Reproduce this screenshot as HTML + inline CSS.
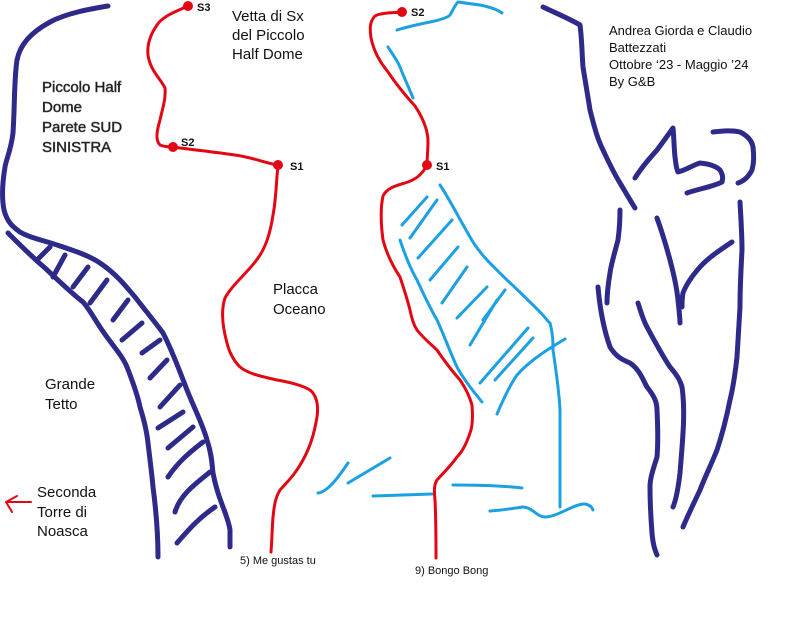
<!DOCTYPE html>
<html><head><meta charset="utf-8"><style>
html,body{margin:0;padding:0;background:#fff;}
svg{display:block}
text{font-family:"Liberation Sans",sans-serif;fill:#111;}
</style></head><body>
<svg width="804" height="628" viewBox="0 0 804 628" xmlns="http://www.w3.org/2000/svg">
<g fill="none" stroke="#2e2a8a" stroke-width="5" stroke-linecap="round" stroke-linejoin="round">
<path d="M108,6 C90,9 67,13 50,22 C30,33 20,45 17,60 C14,80 15,100 13,133 C11,150 6,160 5,167 C2,185 2,200 4,210 C7,222 13,227 20,232 C30,238 43,240 60,246 C75,251 90,256 100,263 C115,273 125,285 135,297 C145,310 155,322 163,333 C172,350 180,372 187,390 C195,410 203,425 207,440 C212,455 212,465 213,473 C218,500 228,515 230,530 L230,547"/>
<path d="M8,233 C20,245 32,257 45,268 C58,280 70,292 83,302 C90,310 95,320 102,330 C112,345 122,355 127,367 C134,385 138,397 140,407 C144,420 147,433 148,443 C150,460 152,475 153,487 C156,510 158,530 158,557"/>
<path d="M37,260 L50,247 M53,277 L65,255 M73,287 L88,267 M90,303 L107,280 M113,320 L128,300 M122,340 L142,323 M142,353 L160,340 M150,378 L167,360 M160,407 L180,385 M158,428 L183,412 M168,448 L193,427 M168,477 C178,462 190,452 203,442 M175,512 C180,495 195,484 210,472 M177,543 C190,528 200,517 215,507"/>
<path d="M543,7 C558,14 572,20 580,25 C582,40 582,55 583,67 C586,85 588,97 590,110 C595,130 598,140 603,150 C610,165 615,175 620,183 C626,193 630,200 635,208"/>
<path d="M620,210 C620,225 619,232 618,240 C614,255 611,265 610,273 C608,285 607,295 607,303"/>
<path d="M598,287 C600,310 604,330 610,347 C616,357 623,360 630,363 C640,370 643,380 647,387 C655,397 657,403 657,410 C658,430 658,445 657,457 C653,470 650,478 650,487 C650,505 651,520 652,533 C653,545 655,550 657,555"/>
<path d="M638,303 C641,312 643,320 647,327 C655,342 662,355 670,367 C677,375 680,380 682,387 C684,400 684,420 683,433 C682,450 681,460 680,473 C678,490 676,500 673,507"/>
<path d="M657,218 C662,232 666,245 670,260 C674,275 677,290 678,300 C679,310 680,318 680,323"/>
<path d="M732,242 C720,250 708,258 700,267 C692,276 686,285 683,293 C682,298 682,303 682,307"/>
<path d="M740,202 C741,220 742,235 742,250 C741,270 740,285 740,307 C739,325 738,340 737,357 C735,375 733,388 730,400 C726,420 722,435 717,450 C711,465 705,477 700,490 C693,505 688,515 683,527"/>
<path d="M635,178 C643,165 650,158 657,150 C663,142 668,135 673,128 C674,138 674,148 675,157 C676,164 676,168 678,172 C686,170 693,165 700,163 C710,164 716,166 720,170 C723,175 723,178 722,182 C712,187 698,189 687,193"/>
<path d="M713,132 C722,131 732,130 740,132 C748,136 752,141 753,147 C754,155 754,163 752,170 C749,176 744,181 738,183"/>
</g>
<g fill="none" stroke="#1ba1e2" stroke-width="3" stroke-linecap="round" stroke-linejoin="round">
<path d="M397,30 C410,26 420,24 430,22 C440,20 447,18 450,15 C453,10 455,5 458,2 C465,3 472,4 480,5 C490,7 498,10 502,13"/>
<path d="M388,47 C393,55 397,60 400,67 C405,80 410,90 413,98"/>
<path d="M440,185 C450,200 460,220 470,237 C480,255 495,268 507,280 C520,292 530,302 540,312 C546,318 548,322 550,323 C553,335 553,342 553,350 C556,370 559,390 560,410 C560,440 560,480 560,507"/>
<path d="M400,240 C405,255 410,268 417,280 C424,295 430,308 437,320 C444,335 450,352 457,367 C464,380 474,392 482,402"/>
<path d="M402,225 L427,197 M410,238 L437,200 M418,258 L452,220 M430,280 L458,247 M442,303 L467,267 M457,318 L487,287 M483,320 L505,290 M470,345 L497,300 M480,383 L528,328 M495,380 L533,338 M497,414 C503,400 510,385 517,375 C530,360 550,348 565,339"/>
<path d="M318,493 C328,492 340,475 348,463 M348,483 L390,458 M373,496 L432,494 M453,485 C480,485 505,486 522,488 M490,511 C505,510 515,508 523,507 C532,507 537,517 545,517 C558,517 575,503 585,504 C590,505 592,507 593,510"/>
</g>
<g fill="none" stroke="#e30613" stroke-width="3" stroke-linecap="round" stroke-linejoin="round">
<path d="M188,6 C175,12 163,16 157,25 C150,35 147,45 148,55 C150,70 160,78 165,88 C166,100 162,110 160,120 C157,130 155,140 160,145 C165,147 170,147 173,147 C195,150 215,152 235,155 C255,158 265,163 278,165"/>
<path d="M278,165 C276,185 276,200 273,215 C270,235 265,250 255,262 C245,275 232,285 225,298 C221,310 222,325 227,343 C230,355 235,362 240,367 C250,375 265,377 277,380 C295,383 310,388 313,393 C318,400 318,410 317,417 C314,435 310,447 303,460 C295,475 287,482 280,490 C274,500 274,510 273,517 C272,530 272,540 271,552"/>
<path d="M402,12 C390,13 380,13 375,16 C369,22 370,30 371,38 C374,52 380,62 388,72 C396,84 405,95 415,106 C423,118 428,130 428,142 C428,150 427,158 427,165 C422,175 415,180 405,183 C395,186 387,188 383,196 C380,210 381,225 383,240 C387,255 394,268 400,277 C405,292 408,302 410,310 C412,320 415,327 417,330 C425,340 432,345 437,350 C445,362 453,372 460,380 C467,390 470,398 472,405 C473,418 472,428 470,433 C466,445 462,452 457,457 C450,467 443,473 437,480 C434,485 434,490 435,500 C436,520 436,540 436,558"/>
<path d="M31,502 L6,502 M17,496 L6,502 L12,512" stroke-width="2"/>
</g>
<g fill="#e30613">
<circle cx="188" cy="6" r="5"/><circle cx="173" cy="147" r="5"/><circle cx="278" cy="165" r="5"/>
<circle cx="402" cy="12" r="5"/><circle cx="427" cy="165" r="5"/>
</g>
<g font-size="11" font-weight="bold">
<text x="197" y="11">S3</text><text x="181" y="146">S2</text><text x="290" y="170">S1</text>
<text x="411" y="16">S2</text><text x="436" y="170">S1</text>
</g>
<g font-size="15">
<text x="232" y="21">Vetta di Sx</text><text x="232" y="40">del Piccolo</text><text x="232" y="59">Half Dome</text>
<text x="273" y="294">Placca</text><text x="273" y="314">Oceano</text>
<text x="45" y="389">Grande</text><text x="45" y="409">Tetto</text>
<text x="37" y="497">Seconda</text><text x="37" y="517">Torre di</text><text x="37" y="536">Noasca</text>
</g>
<g font-size="15" style="fill:#fff;stroke:#444;stroke-width:0.6">
<text x="42" y="92">Piccolo Half</text><text x="42" y="112">Dome</text><text x="42" y="132">Parete SUD</text><text x="42" y="152">SINISTRA</text>
</g>
<g font-size="13">
<text x="609" y="35">Andrea Giorda e Claudio</text><text x="609" y="52">Battezzati</text><text x="609" y="69">Ottobre ‘23 - Maggio ’24</text><text x="609" y="86">By G&amp;B</text>
</g>
<text x="240" y="564" font-size="11">5) Me gustas tu</text>
<text x="415" y="574" font-size="11">9) Bongo Bong</text>
</svg>
</body></html>
